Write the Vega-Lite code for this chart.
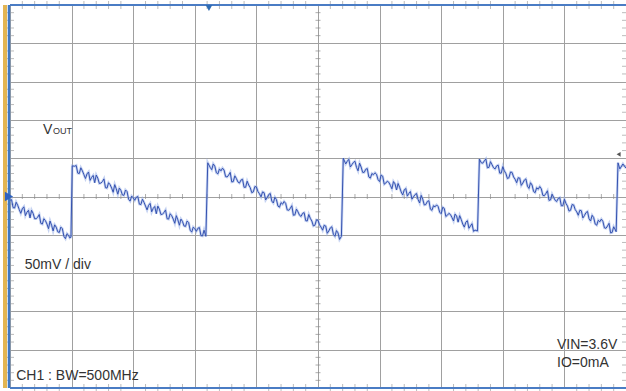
{
  "$schema": "https://vega.github.io/schema/vega-lite/v6.json",
  "width": 616,
  "height": 383,
  "autosize": {"type": "none"},
  "padding": {"left": 10, "top": 5, "right": 0, "bottom": 3},
  "background": "#ffffff",
  "config": {"view": {"stroke": null}},
  "data": {"values": [{}]},
  "datasets": {
    "trace": [
      {"t": 0.00, "v": -0.10}, {"t": 0.05, "v": -0.29}, {"t": 0.10, "v": -0.15}, {"t": 0.15, "v": -0.34},
      {"t": 0.20, "v": -0.32}, {"t": 0.25, "v": -0.50}, {"t": 0.30, "v": -0.36}, {"t": 0.35, "v": -0.36},
      {"t": 0.40, "v": -0.58}, {"t": 0.45, "v": -0.54}, {"t": 0.50, "v": -0.70}, {"t": 0.55, "v": -0.58},
      {"t": 0.60, "v": -0.72}, {"t": 0.65, "v": -0.64}, {"t": 0.70, "v": -0.90}, {"t": 0.75, "v": -0.80},
      {"t": 0.80, "v": -0.94}, {"t": 0.85, "v": -0.84}, {"t": 0.90, "v": -1.10}, {"t": 0.95, "v": -1.01},
      {"t": 0.99, "v": -1.06}, {"t": 1.01, "v": 0.80},
      {"t": 1.05, "v": 0.79}, {"t": 1.10, "v": 0.61}, {"t": 1.15, "v": 0.75}, {"t": 1.20, "v": 0.57},
      {"t": 1.25, "v": 0.59}, {"t": 1.30, "v": 0.42}, {"t": 1.35, "v": 0.55}, {"t": 1.40, "v": 0.56},
      {"t": 1.45, "v": 0.34}, {"t": 1.50, "v": 0.39}, {"t": 1.55, "v": 0.23}, {"t": 1.60, "v": 0.36},
      {"t": 1.65, "v": 0.22}, {"t": 1.70, "v": 0.31}, {"t": 1.75, "v": 0.06}, {"t": 1.80, "v": 0.16},
      {"t": 1.85, "v": 0.03}, {"t": 1.90, "v": 0.13}, {"t": 1.95, "v": -0.12}, {"t": 2.00, "v": -0.03},
      {"t": 2.05, "v": -0.02}, {"t": 2.10, "v": -0.20}, {"t": 2.15, "v": -0.07}, {"t": 2.20, "v": -0.25},
      {"t": 2.25, "v": -0.23}, {"t": 2.30, "v": -0.40}, {"t": 2.35, "v": -0.26}, {"t": 2.40, "v": -0.25},
      {"t": 2.45, "v": -0.47}, {"t": 2.50, "v": -0.42}, {"t": 2.55, "v": -0.58}, {"t": 2.60, "v": -0.45},
      {"t": 2.65, "v": -0.59}, {"t": 2.70, "v": -0.50}, {"t": 2.75, "v": -0.75}, {"t": 2.80, "v": -0.65},
      {"t": 2.85, "v": -0.78}, {"t": 2.90, "v": -0.68}, {"t": 2.95, "v": -0.93}, {"t": 3.00, "v": -0.84},
      {"t": 3.05, "v": -0.83}, {"t": 3.10, "v": -1.02}, {"t": 3.15, "v": -0.88}, {"t": 3.18, "v": -1.04},
      {"t": 3.21, "v": 0.88},
      {"t": 3.25, "v": 0.76}, {"t": 3.30, "v": 0.85}, {"t": 3.35, "v": 0.62}, {"t": 3.40, "v": 0.72},
      {"t": 3.45, "v": 0.74}, {"t": 3.50, "v": 0.52}, {"t": 3.55, "v": 0.56}, {"t": 3.60, "v": 0.38},
      {"t": 3.65, "v": 0.54}, {"t": 3.70, "v": 0.38}, {"t": 3.75, "v": 0.43}, {"t": 3.80, "v": 0.24},
      {"t": 3.85, "v": 0.40}, {"t": 3.90, "v": 0.23}, {"t": 3.95, "v": 0.12}, {"t": 4.00, "v": 0.25},
      {"t": 4.05, "v": 0.07}, {"t": 4.10, "v": 0.12}, {"t": 4.15, "v": -0.09}, {"t": 4.20, "v": 0.05},
      {"t": 4.25, "v": -0.12}, {"t": 4.30, "v": -0.02}, {"t": 4.35, "v": -0.25}, {"t": 4.40, "v": -0.16},
      {"t": 4.45, "v": -0.13}, {"t": 4.50, "v": -0.35}, {"t": 4.55, "v": -0.31}, {"t": 4.60, "v": -0.49},
      {"t": 4.65, "v": -0.33}, {"t": 4.70, "v": -0.49}, {"t": 4.75, "v": -0.44}, {"t": 4.80, "v": -0.63},
      {"t": 4.85, "v": -0.47}, {"t": 4.90, "v": -0.64}, {"t": 4.95, "v": -0.75}, {"t": 5.00, "v": -0.62},
      {"t": 5.05, "v": -0.80}, {"t": 5.10, "v": -0.75}, {"t": 5.15, "v": -0.96}, {"t": 5.20, "v": -0.82},
      {"t": 5.25, "v": -0.99}, {"t": 5.30, "v": -0.89}, {"t": 5.35, "v": -1.12}, {"t": 5.38, "v": -1.04},
      {"t": 5.41, "v": 1.00},
      {"t": 5.45, "v": 0.85}, {"t": 5.50, "v": 0.97}, {"t": 5.55, "v": 0.83}, {"t": 5.60, "v": 0.92},
      {"t": 5.65, "v": 0.67}, {"t": 5.70, "v": 0.77}, {"t": 5.75, "v": 0.63}, {"t": 5.80, "v": 0.73},
      {"t": 5.85, "v": 0.48}, {"t": 5.90, "v": 0.57}, {"t": 5.95, "v": 0.58}, {"t": 6.00, "v": 0.39},
      {"t": 6.05, "v": 0.53}, {"t": 6.10, "v": 0.35}, {"t": 6.15, "v": 0.37}, {"t": 6.20, "v": 0.20},
      {"t": 6.25, "v": 0.33}, {"t": 6.30, "v": 0.34}, {"t": 6.35, "v": 0.12}, {"t": 6.40, "v": 0.17},
      {"t": 6.45, "v": 0.01}, {"t": 6.50, "v": 0.13}, {"t": 6.55, "v": -0.01}, {"t": 6.60, "v": 0.08},
      {"t": 6.65, "v": -0.17}, {"t": 6.70, "v": -0.07}, {"t": 6.75, "v": -0.21}, {"t": 6.80, "v": -0.11},
      {"t": 6.85, "v": -0.36}, {"t": 6.90, "v": -0.27}, {"t": 6.95, "v": -0.26}, {"t": 7.00, "v": -0.45},
      {"t": 7.05, "v": -0.31}, {"t": 7.10, "v": -0.49}, {"t": 7.15, "v": -0.47}, {"t": 7.20, "v": -0.64},
      {"t": 7.25, "v": -0.51}, {"t": 7.30, "v": -0.50}, {"t": 7.35, "v": -0.72}, {"t": 7.40, "v": -0.67},
      {"t": 7.45, "v": -0.83}, {"t": 7.50, "v": -0.71}, {"t": 7.55, "v": -0.88}, {"t": 7.59, "v": -0.90},
      {"t": 7.62, "v": 0.98},
      {"t": 7.65, "v": 0.88}, {"t": 7.70, "v": 0.93}, {"t": 7.75, "v": 0.75}, {"t": 7.80, "v": 0.91},
      {"t": 7.85, "v": 0.75}, {"t": 7.90, "v": 0.80}, {"t": 7.95, "v": 0.61}, {"t": 8.00, "v": 0.78},
      {"t": 8.05, "v": 0.60}, {"t": 8.10, "v": 0.49}, {"t": 8.15, "v": 0.63}, {"t": 8.20, "v": 0.45},
      {"t": 8.25, "v": 0.49}, {"t": 8.30, "v": 0.29}, {"t": 8.35, "v": 0.43}, {"t": 8.40, "v": 0.27},
      {"t": 8.45, "v": 0.36}, {"t": 8.50, "v": 0.13}, {"t": 8.55, "v": 0.23}, {"t": 8.60, "v": 0.26},
      {"t": 8.65, "v": 0.03}, {"t": 8.70, "v": 0.08}, {"t": 8.75, "v": -0.10}, {"t": 8.80, "v": 0.06},
      {"t": 8.85, "v": -0.10}, {"t": 8.90, "v": -0.05}, {"t": 8.95, "v": -0.24}, {"t": 9.00, "v": -0.07},
      {"t": 9.05, "v": -0.25}, {"t": 9.10, "v": -0.36}, {"t": 9.15, "v": -0.22}, {"t": 9.20, "v": -0.40},
      {"t": 9.25, "v": -0.36}, {"t": 9.30, "v": -0.56}, {"t": 9.35, "v": -0.42}, {"t": 9.40, "v": -0.58},
      {"t": 9.45, "v": -0.49}, {"t": 9.50, "v": -0.72}, {"t": 9.55, "v": -0.62}, {"t": 9.60, "v": -0.59},
      {"t": 9.65, "v": -0.82}, {"t": 9.70, "v": -0.77}, {"t": 9.75, "v": -0.95}, {"t": 9.80, "v": -0.79},
      {"t": 9.84, "v": -0.92}, {"t": 9.87, "v": 0.88}, {"t": 9.90, "v": 0.72}, {"t": 9.95, "v": 0.85},
      {"t": 10.00, "v": 0.74},
      {"t": 0.025, "v": -0.08}, {"t": 0.075, "v": -0.30}, {"t": 0.125, "v": -0.23}, {"t": 0.175, "v": -0.44},
      {"t": 0.225, "v": -0.27}, {"t": 0.275, "v": -0.41}, {"t": 0.325, "v": -0.56}, {"t": 0.375, "v": -0.44},
      {"t": 0.425, "v": -0.58}, {"t": 0.475, "v": -0.47}, {"t": 0.525, "v": -0.72}, {"t": 0.575, "v": -0.63},
      {"t": 0.625, "v": -0.84}, {"t": 0.675, "v": -0.75}, {"t": 0.725, "v": -0.74}, {"t": 0.775, "v": -0.92},
      {"t": 0.825, "v": -0.80}, {"t": 0.875, "v": -1.04}, {"t": 0.925, "v": -0.97}, {"t": 0.97, "v": -1.08},
      {"t": 1.075, "v": 0.81}, {"t": 1.125, "v": 0.60}, {"t": 1.175, "v": 0.67}, {"t": 1.225, "v": 0.47},
      {"t": 1.275, "v": 0.64}, {"t": 1.325, "v": 0.50}, {"t": 1.375, "v": 0.36}, {"t": 1.425, "v": 0.48},
      {"t": 1.475, "v": 0.35}, {"t": 1.525, "v": 0.46}, {"t": 1.575, "v": 0.22}, {"t": 1.625, "v": 0.31},
      {"t": 1.675, "v": 0.11}, {"t": 1.725, "v": 0.20}, {"t": 1.775, "v": 0.22}, {"t": 1.825, "v": 0.04},
      {"t": 1.875, "v": 0.17}, {"t": 1.925, "v": -0.07}, {"t": 1.975, "v": 0.01}, {"t": 2.025, "v": -0.10},
      {"t": 2.075, "v": 0.00}, {"t": 2.125, "v": -0.21}, {"t": 2.175, "v": -0.15}, {"t": 2.225, "v": -0.35},
      {"t": 2.275, "v": -0.18}, {"t": 2.325, "v": -0.31}, {"t": 2.375, "v": -0.45}, {"t": 2.425, "v": -0.33},
      {"t": 2.475, "v": -0.46}, {"t": 2.525, "v": -0.35}, {"t": 2.575, "v": -0.59}, {"t": 2.625, "v": -0.50},
      {"t": 2.675, "v": -0.70}, {"t": 2.725, "v": -0.61}, {"t": 2.775, "v": -0.59}, {"t": 2.825, "v": -0.77},
      {"t": 2.875, "v": -0.64}, {"t": 2.925, "v": -0.88}, {"t": 2.975, "v": -0.80}, {"t": 3.025, "v": -0.91},
      {"t": 3.075, "v": -0.81}, {"t": 3.125, "v": -1.03},
      {"t": 3.275, "v": 0.70}, {"t": 3.325, "v": 0.79}, {"t": 3.375, "v": 0.59}, {"t": 3.425, "v": 0.67},
      {"t": 3.475, "v": 0.69}, {"t": 3.525, "v": 0.51}, {"t": 3.575, "v": 0.63}, {"t": 3.625, "v": 0.39},
      {"t": 3.675, "v": 0.47}, {"t": 3.725, "v": 0.35}, {"t": 3.775, "v": 0.45}, {"t": 3.825, "v": 0.24},
      {"t": 3.875, "v": 0.30}, {"t": 3.925, "v": 0.10}, {"t": 3.975, "v": 0.26}, {"t": 4.025, "v": 0.13},
      {"t": 4.075, "v": -0.01}, {"t": 4.125, "v": 0.10}, {"t": 4.175, "v": -0.03}, {"t": 4.225, "v": 0.08},
      {"t": 4.275, "v": -0.17}, {"t": 4.325, "v": -0.08}, {"t": 4.375, "v": -0.28}, {"t": 4.425, "v": -0.20},
      {"t": 4.475, "v": -0.18}, {"t": 4.525, "v": -0.36}, {"t": 4.575, "v": -0.24}, {"t": 4.625, "v": -0.48},
      {"t": 4.675, "v": -0.40}, {"t": 4.725, "v": -0.52}, {"t": 4.775, "v": -0.42}, {"t": 4.825, "v": -0.64},
      {"t": 4.875, "v": -0.57}, {"t": 4.925, "v": -0.77}, {"t": 4.975, "v": -0.61}, {"t": 5.025, "v": -0.74},
      {"t": 5.075, "v": -0.88}, {"t": 5.125, "v": -0.77}, {"t": 5.175, "v": -0.90}, {"t": 5.225, "v": -0.79},
      {"t": 5.275, "v": -1.04}, {"t": 5.325, "v": -0.95},
      {"t": 5.475, "v": 0.92}, {"t": 5.525, "v": 0.77}, {"t": 5.575, "v": 0.89}, {"t": 5.625, "v": 0.76},
      {"t": 5.675, "v": 0.87}, {"t": 5.725, "v": 0.63}, {"t": 5.775, "v": 0.71}, {"t": 5.825, "v": 0.51},
      {"t": 5.875, "v": 0.60}, {"t": 5.925, "v": 0.62}, {"t": 5.975, "v": 0.44}, {"t": 6.025, "v": 0.56},
      {"t": 6.075, "v": 0.32}, {"t": 6.125, "v": 0.40}, {"t": 6.175, "v": 0.29}, {"t": 6.225, "v": 0.39},
      {"t": 6.275, "v": 0.17}, {"t": 6.325, "v": 0.24}, {"t": 6.375, "v": 0.04}, {"t": 6.425, "v": 0.21},
      {"t": 6.475, "v": 0.08}, {"t": 6.525, "v": -0.07}, {"t": 6.575, "v": 0.05}, {"t": 6.625, "v": -0.08},
      {"t": 6.675, "v": 0.03}, {"t": 6.725, "v": -0.22}, {"t": 6.775, "v": -0.13}, {"t": 6.825, "v": -0.33},
      {"t": 6.875, "v": -0.24}, {"t": 6.925, "v": -0.22}, {"t": 6.975, "v": -0.41}, {"t": 7.025, "v": -0.28},
      {"t": 7.075, "v": -0.52}, {"t": 7.125, "v": -0.44}, {"t": 7.175, "v": -0.55}, {"t": 7.225, "v": -0.46},
      {"t": 7.275, "v": -0.67}, {"t": 7.325, "v": -0.60}, {"t": 7.375, "v": -0.80}, {"t": 7.425, "v": -0.63},
      {"t": 7.475, "v": -0.77}, {"t": 7.525, "v": -0.91},
      {"t": 7.675, "v": 0.87}, {"t": 7.725, "v": 0.98}, {"t": 7.775, "v": 0.76}, {"t": 7.825, "v": 0.83},
      {"t": 7.875, "v": 0.72}, {"t": 7.925, "v": 0.82}, {"t": 7.975, "v": 0.61}, {"t": 8.025, "v": 0.67},
      {"t": 8.075, "v": 0.47}, {"t": 8.125, "v": 0.64}, {"t": 8.175, "v": 0.51}, {"t": 8.225, "v": 0.36},
      {"t": 8.275, "v": 0.48}, {"t": 8.325, "v": 0.35}, {"t": 8.375, "v": 0.46}, {"t": 8.425, "v": 0.21},
      {"t": 8.475, "v": 0.30}, {"t": 8.525, "v": 0.10}, {"t": 8.575, "v": 0.19}, {"t": 8.625, "v": 0.20},
      {"t": 8.675, "v": 0.02}, {"t": 8.725, "v": 0.15}, {"t": 8.775, "v": -0.09}, {"t": 8.825, "v": -0.02},
      {"t": 8.875, "v": -0.13}, {"t": 8.925, "v": -0.03}, {"t": 8.975, "v": -0.24}, {"t": 9.025, "v": -0.18},
      {"t": 9.075, "v": -0.38}, {"t": 9.125, "v": -0.21}, {"t": 9.175, "v": -0.34}, {"t": 9.225, "v": -0.49},
      {"t": 9.275, "v": -0.37}, {"t": 9.325, "v": -0.50}, {"t": 9.375, "v": -0.39}, {"t": 9.425, "v": -0.64},
      {"t": 9.475, "v": -0.55}, {"t": 9.525, "v": -0.75}, {"t": 9.575, "v": -0.66}, {"t": 9.625, "v": -0.65},
      {"t": 9.675, "v": -0.83}, {"t": 9.725, "v": -0.70}, {"t": 9.775, "v": -0.94}, {"t": 9.82, "v": -0.85}
    ],
    "minor": [
      {"t": 0.2, "c": -4.8}, {"t": 0.4, "c": -4.6}, {"t": 0.6, "c": -4.4}, {"t": 0.8, "c": -4.2},
      {"t": 1.2, "c": -3.8}, {"t": 1.4, "c": -3.6}, {"t": 1.6, "c": -3.4}, {"t": 1.8, "c": -3.2},
      {"t": 2.2, "c": -2.8}, {"t": 2.4, "c": -2.6}, {"t": 2.6, "c": -2.4}, {"t": 2.8, "c": -2.2},
      {"t": 3.2, "c": -1.8}, {"t": 3.4, "c": -1.6}, {"t": 3.6, "c": -1.4}, {"t": 3.8, "c": -1.2},
      {"t": 4.2, "c": -0.8}, {"t": 4.4, "c": -0.6}, {"t": 4.6, "c": -0.4}, {"t": 4.8, "c": -0.2},
      {"t": 5.2, "c": 0.2}, {"t": 5.4, "c": 0.4}, {"t": 5.6, "c": 0.6}, {"t": 5.8, "c": 0.8},
      {"t": 6.2, "c": 1.2}, {"t": 6.4, "c": 1.4}, {"t": 6.6, "c": 1.6}, {"t": 6.8, "c": 1.8},
      {"t": 7.2, "c": 2.2}, {"t": 7.4, "c": 2.4}, {"t": 7.6, "c": 2.6}, {"t": 7.8, "c": 2.8},
      {"t": 8.2, "c": 3.2}, {"t": 8.4, "c": 3.4}, {"t": 8.6, "c": 3.6}, {"t": 8.8, "c": 3.8},
      {"t": 9.2, "c": 4.2}, {"t": 9.4, "c": 4.4}, {"t": 9.6, "c": 4.6}, {"t": 9.8, "c": 4.8}
    ]
  },
  "encoding": {
    "x": {"type": "quantitative", "scale": {"domain": [0, 10], "nice": false, "zero": false},
      "axis": {"values": [0, 1, 2, 3, 4, 5, 6, 7, 8, 9, 10], "grid": true, "gridColor": "#a0a0a0", "gridWidth": 1,
        "labels": false, "ticks": false, "domain": false, "title": null}},
    "y": {"type": "quantitative", "scale": {"domain": [-5, 5], "nice": false, "zero": false},
      "axis": {"values": [-5, -4, -3, -2, -1, 0, 1, 2, 3, 4, 5], "grid": true, "gridColor": "#a0a0a0", "gridWidth": 1,
        "labels": false, "ticks": false, "domain": false, "title": null}}
  },
  "layer": [
    {"data": {"name": "minor"}, "mark": {"type": "tick", "orient": "vertical", "size": 5, "thickness": 1, "color": "#8a8a8a"},
      "encoding": {"x": {"field": "t", "type": "quantitative"}, "y": {"datum": 0}}},
    {"data": {"name": "minor"}, "mark": {"type": "tick", "orient": "horizontal", "size": 5, "thickness": 1, "color": "#8a8a8a"},
      "encoding": {"y": {"field": "c", "type": "quantitative"}, "x": {"datum": 5}}},
    {"data": {"name": "minor"}, "mark": {"type": "tick", "orient": "vertical", "size": 8, "thickness": 1, "color": "#a0a0a0"},
      "encoding": {"x": {"field": "t", "type": "quantitative"}, "y": {"datum": 5}}},
    {"data": {"name": "minor"}, "mark": {"type": "tick", "orient": "vertical", "size": 8, "thickness": 1, "color": "#a0a0a0"},
      "encoding": {"x": {"field": "t", "type": "quantitative"}, "y": {"datum": -5}}},
    {"data": {"name": "minor"}, "mark": {"type": "tick", "orient": "horizontal", "size": 8, "thickness": 1, "color": "#a0a0a0"},
      "encoding": {"y": {"field": "c", "type": "quantitative"}, "x": {"datum": 0}}},
    {"data": {"name": "minor"}, "mark": {"type": "tick", "orient": "horizontal", "size": 8, "thickness": 1, "color": "#a0a0a0"},
      "encoding": {"y": {"field": "c", "type": "quantitative"}, "x": {"datum": 10}}},
    {"data": {"name": "trace"}, "mark": {"type": "line", "color": "#97afe8", "strokeWidth": 2.6, "opacity": 0.55},
      "encoding": {"x": {"field": "t", "type": "quantitative"}, "y": {"field": "v", "type": "quantitative"}}},
    {"data": {"name": "trace"}, "mark": {"type": "line", "color": "#3552b0", "strokeWidth": 1},
      "encoding": {"x": {"field": "t", "type": "quantitative"}, "y": {"field": "v", "type": "quantitative"}}},
    {"mark": {"type": "rule", "color": "#e3b552", "strokeWidth": 4, "xOffset": -5}, "encoding": {"x": {"datum": 0}}},
    {"mark": {"type": "rule", "color": "#3f78c2", "strokeWidth": 2.5, "xOffset": -1}, "encoding": {"x": {"datum": 0}}},
    {"mark": {"type": "rule", "color": "#4a7cc4", "strokeWidth": 2}, "encoding": {"y": {"datum": 5}}},
    {"mark": {"type": "rule", "color": "#4a7cc4", "strokeWidth": 2}, "encoding": {"y": {"datum": -5}}},
    {"mark": {"type": "point", "shape": "triangle-right", "filled": true, "size": 90, "color": "#2f62c0", "opacity": 1, "xOffset": -1},
      "encoding": {"x": {"datum": 0}, "y": {"datum": 0}}},
    {"mark": {"type": "point", "shape": "triangle-down", "filled": true, "size": 45, "color": "#2f6cb4", "opacity": 1, "yOffset": 3},
      "encoding": {"x": {"datum": 3.23}, "y": {"datum": 5}}},
    {"mark": {"type": "point", "shape": "triangle-left", "filled": true, "size": 22, "color": "#555555", "opacity": 1},
      "encoding": {"x": {"datum": 9.88}, "y": {"datum": 1.1}}},
    {"mark": {"type": "text", "text": "V", "font": "Liberation Sans", "fill": "#333333", "fontSize": 14, "align": "left", "baseline": "alphabetic"},
      "encoding": {"x": {"datum": 0.536}, "y": {"datum": 1.62}}},
    {"mark": {"type": "text", "text": "OUT", "font": "Liberation Sans", "fill": "#333333", "fontSize": 9, "align": "left", "baseline": "alphabetic"},
      "encoding": {"x": {"datum": 0.7}, "y": {"datum": 1.62}}},
    {"mark": {"type": "text", "text": "50mV / div", "font": "Liberation Sans", "fill": "#333333", "fontSize": 14, "align": "left", "baseline": "alphabetic"},
      "encoding": {"x": {"datum": 0.24}, "y": {"datum": -1.88}}},
    {"mark": {"type": "text", "text": "CH1 : BW=500MHz", "font": "Liberation Sans", "fill": "#333333", "fontSize": 14, "align": "left", "baseline": "alphabetic"},
      "encoding": {"x": {"datum": 0.1}, "y": {"datum": -4.78}}},
    {"mark": {"type": "text", "text": "VIN=3.6V", "font": "Liberation Sans", "fill": "#333333", "fontSize": 14, "align": "left", "baseline": "alphabetic"},
      "encoding": {"x": {"datum": 8.88}, "y": {"datum": -3.97}}},
    {"mark": {"type": "text", "text": "IO=0mA", "font": "Liberation Sans", "fill": "#333333", "fontSize": 14, "align": "left", "baseline": "alphabetic"},
      "encoding": {"x": {"datum": 8.88}, "y": {"datum": -4.44}}}
  ]
}
